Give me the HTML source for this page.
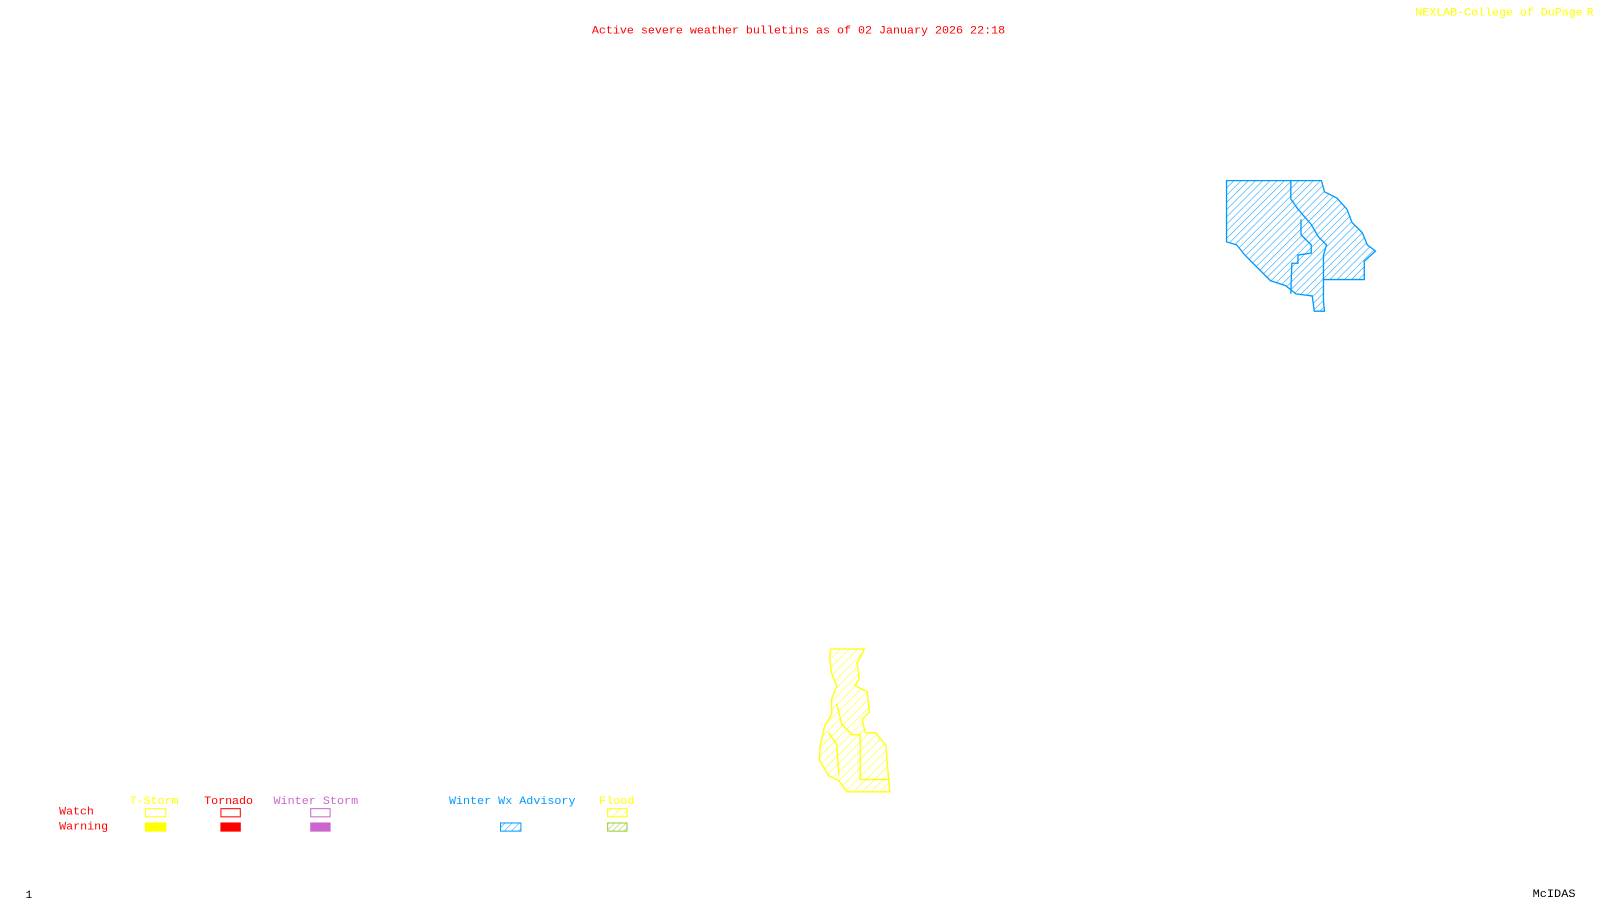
<!DOCTYPE html>
<html><head><style>
html,body{margin:0;padding:0;background:#fff;width:1600px;height:900px;overflow:hidden}
svg{display:block}
text{font-family:"Liberation Mono","DejaVu Sans Mono",monospace;font-size:11px}
</style></head><body>
<svg width="1600" height="900" viewBox="0 0 1568 882" preserveAspectRatio="none" xmlns="http://www.w3.org/2000/svg">
<defs>
<pattern id="hb" width="5" height="5" patternUnits="userSpaceOnUse" patternTransform="rotate(45)">
<line x1="0" y1="0" x2="0" y2="5" stroke="#0099ff" stroke-width="1"/></pattern>
<pattern id="hy" width="6" height="6" patternUnits="userSpaceOnUse" patternTransform="rotate(45)">
<line x1="0" y1="0" x2="0" y2="6" stroke="#ffff00" stroke-width="1"/></pattern>
<pattern id="hg" width="4" height="4" patternUnits="userSpaceOnUse" patternTransform="rotate(45)">
<line x1="0" y1="0" x2="0" y2="4" stroke="#99cc33" stroke-width="1"/></pattern>
</defs>
<text x="580" y="33" fill="#ff0000" textLength="405" lengthAdjust="spacingAndGlyphs">Active severe weather bulletins as of 02 January 2026 22:18</text>
<text x="1387" y="15" fill="#ffff00" textLength="164" lengthAdjust="spacingAndGlyphs">NEXLAB-College of DuPage</text>
<text x="1555" y="15" fill="#ffff00">R</text>

<g stroke="#0099ff" stroke-width="1.3" fill="url(#hb)">
<polygon points="1202,177 1295,177 1298,188 1310,194 1320,205 1325,218 1335,228 1340,240 1348,246 1337,256 1337,274 1297,274 1297,295 1298,305 1288,305 1286,290 1270,288 1260,280 1245,275 1232,262 1220,250 1212,240 1202,237"/>
<polyline fill="none" points="1265,177 1265,195 1272,205 1285,220 1292,232 1300,240 1297,250 1297,274"/>
<polyline fill="none" points="1275,215 1275,230 1285,240 1285,248 1272,250 1272,258 1266,258 1265,288"/>
</g>

<g stroke="#ffff00" stroke-width="1.3" fill="url(#hy)">
<polygon points="814,636 847,636 840,650 842,665 838,672 850,678 852,698 845,705 848,718 858,718 868,730 872,776 830,776 822,765 812,760 803,745 804,730 808,712 815,700 815,685 820,672 815,660 813,645"/>
<polyline fill="none" points="820,690 825,710 835,720 843,720 843,764 872,764"/>
<polyline fill="none" points="812,718 820,730 822,760"/>
</g>

<text x="127" y="788" fill="#ffff00" textLength="48" lengthAdjust="spacingAndGlyphs">T-Storm</text>
<text x="200" y="788" fill="#ff0000" textLength="48" lengthAdjust="spacingAndGlyphs">Tornado</text>
<text x="268" y="788" fill="#cc66cc" textLength="83" lengthAdjust="spacingAndGlyphs">Winter Storm</text>
<text x="440" y="788" fill="#0099ff" textLength="124" lengthAdjust="spacingAndGlyphs">Winter Wx Advisory</text>
<text x="587" y="788" fill="#ffff00" textLength="35" lengthAdjust="spacingAndGlyphs">Flood</text>
<text x="58" y="798" fill="#ff0000" textLength="34" lengthAdjust="spacingAndGlyphs">Watch</text>
<text x="58" y="813" fill="#ff0000" textLength="48" lengthAdjust="spacingAndGlyphs">Warning</text>

<rect x="142.5" y="792.5" width="20" height="8" fill="none" stroke="#ffff00"/>
<rect x="216.5" y="792.5" width="19" height="8" fill="none" stroke="#ff0000"/>
<rect x="304.5" y="792.5" width="19" height="8" fill="none" stroke="#cc66cc"/>
<rect x="595.5" y="792.5" width="19" height="8" fill="url(#hy)" stroke="#ffff00"/>
<rect x="142" y="806" width="21" height="9" fill="#ffff00"/>
<rect x="216" y="806" width="20" height="9" fill="#ff0000"/>
<rect x="304" y="806" width="20" height="9" fill="#cc66cc"/>
<rect x="490.5" y="806.5" width="20" height="8" fill="url(#hb)" stroke="#0099ff"/>
<rect x="595.5" y="806.5" width="19" height="8" fill="url(#hg)" stroke="#99cc33"/>

<text x="25" y="880" fill="#000">1</text>
<text x="1502" y="879" fill="#000" textLength="42" lengthAdjust="spacingAndGlyphs">McIDAS</text>
</svg>
</body></html>
